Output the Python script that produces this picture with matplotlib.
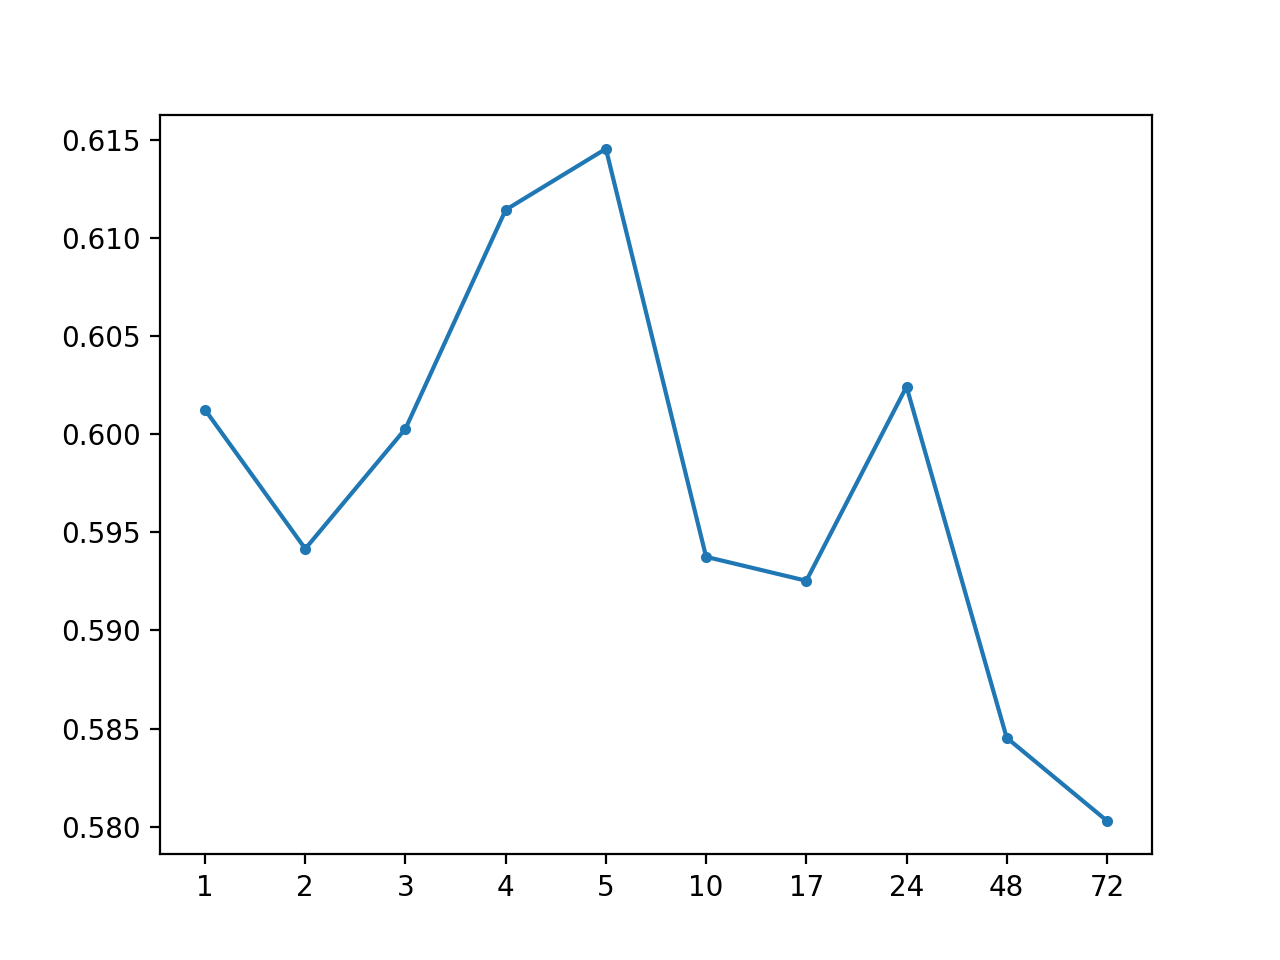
import matplotlib
matplotlib.use("Agg")
import matplotlib.pyplot as plt

# window sizes (categorical) and scores
windows = ["1", "2", "3", "4", "5", "10", "17", "24", "48", "72"]
scores = [0.60124, 0.59416, 0.60028, 0.61143, 0.61454,
          0.59375, 0.59253, 0.60242, 0.58453, 0.58030]

fig = plt.figure(figsize=(6.4, 4.8), dpi=200)
plt.plot(windows, scores, marker=".")

fig.savefig("out.png", dpi=200)
